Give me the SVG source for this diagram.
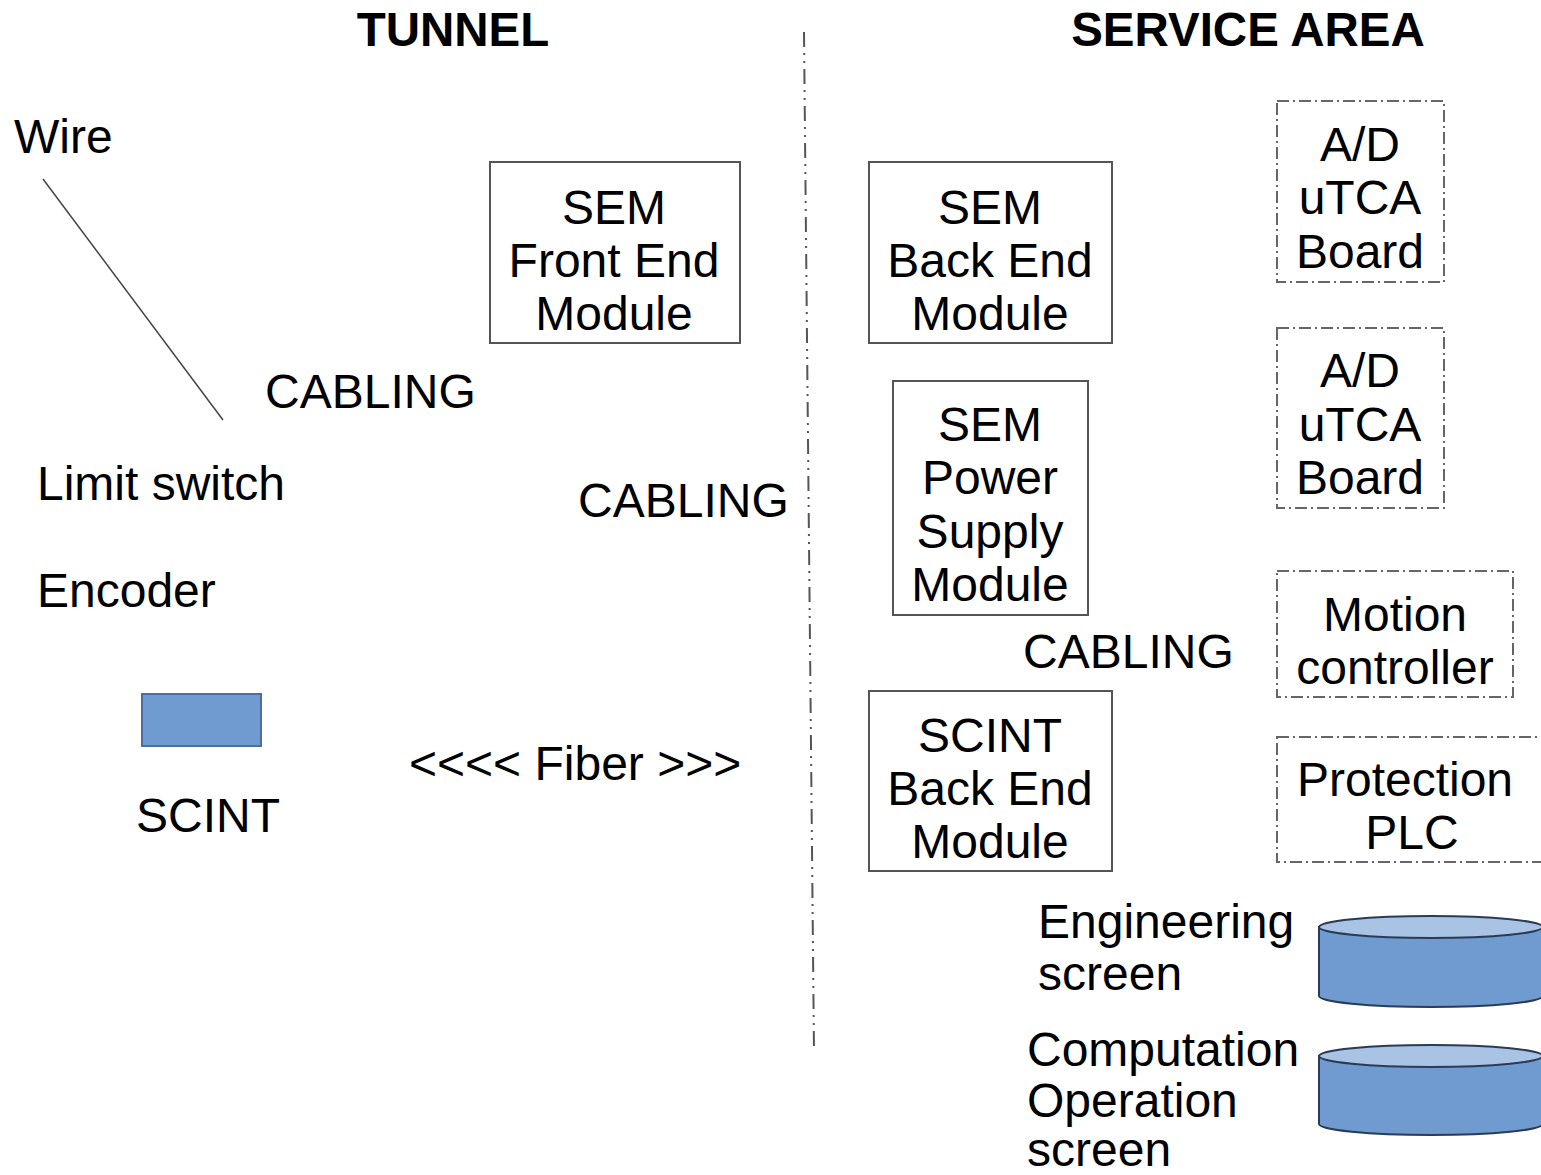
<svg xmlns="http://www.w3.org/2000/svg" width="1541" height="1175" viewBox="0 0 1541 1175">
  <style>
    text { font-family: "Liberation Sans", Arial, sans-serif; font-size: 48px; fill: #000; }
    .title { font-weight: bold; font-size: 47.5px; text-anchor: middle; }
    .c { text-anchor: middle; }
    .box { fill: #fff; stroke: #555; stroke-width: 2; }
    .dbox { fill: #fff; stroke: #666; stroke-width: 2; stroke-dasharray: 12 4 2 4; }
    .divider { stroke: #555; stroke-width: 2; stroke-dasharray: 15 6 2 6 2 6; fill: none; }
    .body { fill: #6f9bd0; stroke: #2b3b55; stroke-width: 2; }
    .lid { fill: #a8c3e3; stroke: #2b3b55; stroke-width: 2; }
  </style>

  <rect width="1541" height="1175" fill="#fff"/>

  <!-- section headings -->
  <text class="title" x="453" y="46">TUNNEL</text>
  <text class="title" x="1248" y="46">SERVICE AREA</text>

  <!-- boundary between tunnel and service area, and the wire run -->
  <g id="connectors">
    <line class="divider" x1="804" y1="32" x2="814" y2="1052"/>
    <line x1="43" y1="179" x2="223" y2="420" stroke="#444" stroke-width="1.5"/>
  </g>

  <!-- tunnel side -->
  <g id="wire"><text x="14" y="153">Wire</text></g>
  <g id="cabling-1"><text x="265" y="408">CABLING</text></g>
  <g id="limit-switch"><text x="37" y="500">Limit switch</text></g>
  <g id="cabling-2"><text x="578" y="517">CABLING</text></g>
  <g id="encoder"><text x="37" y="607">Encoder</text></g>
  <g id="scint">
    <rect x="142" y="694" width="119" height="52" fill="#6f9bd0" stroke="#4a6f9f" stroke-width="2"/>
    <text class="c" x="208" y="832">SCINT</text>
  </g>
  <g id="fiber"><text x="409" y="780">&lt;&lt;&lt;&lt; Fiber &gt;&gt;&gt;</text></g>
  <g id="sem-front-end">
    <rect class="box" x="490" y="162" width="250" height="181"/>
    <text class="c" x="614" y="224">SEM</text>
    <text class="c" x="614" y="277">Front End</text>
    <text class="c" x="614" y="330">Module</text>
  </g>

  <!-- service area side -->
  <g id="sem-back-end">
    <rect class="box" x="869" y="162" width="243" height="181"/>
    <text class="c" x="990" y="224">SEM</text>
    <text class="c" x="990" y="277">Back End</text>
    <text class="c" x="990" y="330">Module</text>
  </g>
  <g id="ad-board-1">
    <rect class="dbox" x="1277" y="101" width="167" height="181"/>
    <text class="c" x="1360" y="161">A/D</text>
    <text class="c" x="1360" y="214">uTCA</text>
    <text class="c" x="1360" y="268">Board</text>
  </g>
  <g id="ad-board-2">
    <rect class="dbox" x="1277" y="328" width="167" height="180"/>
    <text class="c" x="1360" y="387">A/D</text>
    <text class="c" x="1360" y="441">uTCA</text>
    <text class="c" x="1360" y="494">Board</text>
  </g>
  <g id="sem-power-supply">
    <rect class="box" x="893" y="381" width="195" height="234"/>
    <text class="c" x="990" y="441">SEM</text>
    <text class="c" x="990" y="494">Power</text>
    <text class="c" x="990" y="548">Supply</text>
    <text class="c" x="990" y="601">Module</text>
  </g>
  <g id="cabling-3"><text x="1023" y="668">CABLING</text></g>
  <g id="motion-controller">
    <rect class="dbox" x="1277" y="571" width="236" height="126"/>
    <text class="c" x="1395" y="631">Motion</text>
    <text class="c" x="1395" y="684">controller</text>
  </g>
  <g id="scint-back-end">
    <rect class="box" x="869" y="691" width="243" height="180"/>
    <text class="c" x="990" y="752">SCINT</text>
    <text class="c" x="990" y="805">Back End</text>
    <text class="c" x="990" y="858">Module</text>
  </g>
  <g id="protection-plc">
    <rect class="dbox" x="1277" y="737" width="280" height="125"/>
    <text class="c" x="1405" y="796">Protection</text>
    <text class="c" x="1412" y="849">PLC</text>
  </g>
  <g id="engineering-screen">
    <text x="1038" y="938">Engineering</text>
    <text x="1038" y="990">screen</text>
    <path class="body" d="M1319 927 L1319 996 A112 11 0 0 0 1543 996 L1543 927 Z"/>
    <ellipse class="lid" cx="1431" cy="927" rx="112" ry="11"/>
  </g>
  <g id="computation-screen">
    <text x="1027" y="1066">Computation</text>
    <text x="1027" y="1117">Operation</text>
    <text x="1027" y="1166">screen</text>
    <path class="body" d="M1319 1056 L1319 1124 A112 11 0 0 0 1543 1124 L1543 1056 Z"/>
    <ellipse class="lid" cx="1431" cy="1056" rx="112" ry="11"/>
  </g>
</svg>
